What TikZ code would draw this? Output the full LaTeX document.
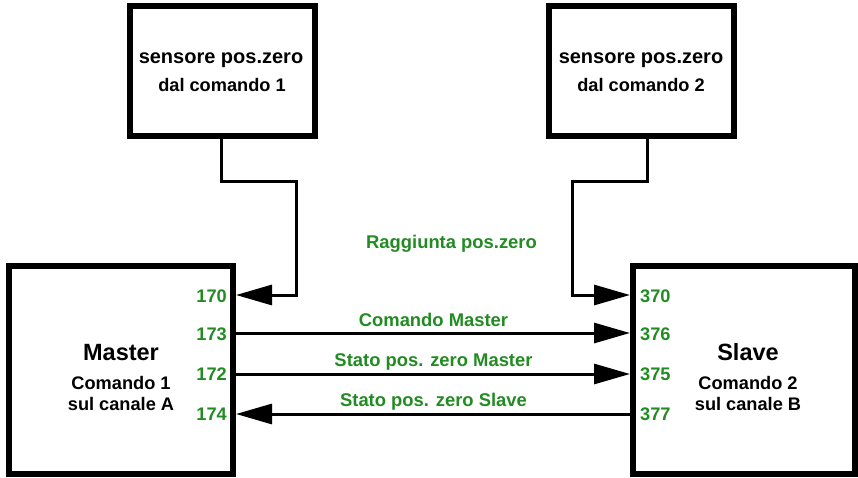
\documentclass[tikz,border=0pt]{standalone}
\usepackage{fontspec}
\setmainfont{Liberation Sans}
\usetikzlibrary{arrows.meta}
\definecolor{pingreen}{RGB}{34,139,34}
\tikzset{
  box/.style={draw=black, line width=6pt, rectangle, inner sep=0pt, fill=white},
  wire/.style={draw=black, line width=3pt},
  arr/.style={wire, -{Triangle[length=36pt,width=20pt]}},
  pin/.style={font=\fontsize{18.2}{20}\selectfont\bfseries, text=pingreen, inner sep=0pt},
  sig/.style={font=\fontsize{18.4}{20}\selectfont\bfseries, text=pingreen, inner sep=0pt, anchor=base},
  title/.style={font=\fontsize{23.5}{26}\selectfont\bfseries, inner sep=0pt, anchor=base},
  sub/.style={font=\fontsize{18.2}{20}\selectfont\bfseries, inner sep=0pt, anchor=base},
  top/.style={font=\fontsize{20}{22}\selectfont\bfseries, inner sep=0pt, anchor=base}
}
\begin{document}
\begin{tikzpicture}[x=1pt,y=-1pt]
\useasboundingbox (0,0) rectangle (858,477);
% boxes
\node[box, minimum width=224pt, minimum height=208pt] (M) at (121,370) {};
\node[box, minimum width=222pt, minimum height=208pt] (S) at (744,370) {};
\node[box, minimum width=185pt, minimum height=130pt] (T1) at (222.5,71) {};
\node[box, minimum width=185pt, minimum height=130pt] (T2) at (641,71) {};
% box texts
\node[top] (t1a) at (221,63) {sensore pos.zero};
\node[sub] (t1b) at (222,91) {dal comando 1};
\node[top] (t2a) at (641,63) {sensore pos.zero};
\node[sub] (t2b) at (641,91) {dal comando 2};
\node[title] (mt) at (121,360) {Master};
\node[sub] (m1) at (121,389) {Comando 1};
\node[sub] (m2) at (121,410) {sul canale A};
\node[title] (st) at (748,360) {Slave};
\node[sub] (s1) at (748,389) {Comando 2};
\node[sub] (s2) at (748,410) {sul canale B};
% pin labels
\node[pin, anchor=base east] (p170) at (227,302) {170};
\node[pin, anchor=base east] (p173) at (227,340) {173};
\node[pin, anchor=base east] (p172) at (227,380) {172};
\node[pin, anchor=base east] (p174) at (227,420) {174};
\node[pin, anchor=base west] (p370) at (640,302) {370};
\node[pin, anchor=base west] (p376) at (640,340) {376};
\node[pin, anchor=base west] (p375) at (640,380) {375};
\node[pin, anchor=base west] (p377) at (640,420) {377};
% signal labels
\node[sig] (lr) at (451.5,248) {Raggiunta pos.zero};
\node[sig] (lc) at (433.5,326) {Comando Master};
\node[sig] (lm) at (433.5,366.5) {Stato pos. zero Master};
\node[sig] (ls) at (433.5,406.5) {Stato pos. zero Slave};
% level coordinates
\coordinate (y0) at (0,295);
\coordinate (y1) at (0,333);
\coordinate (y2) at (0,374);
\coordinate (y3) at (0,414);
\coordinate (k1) at (296,181);
\coordinate (k2) at (572,181);
% connectors
\draw[arr] ([xshift=-1.5pt]T1.south) |- (k1) -- (k1 |- y0) -- (M.east |- y0);
\draw[arr] ([xshift=6pt]T2.south) |- (k2) -- (k2 |- y0) -- (S.west |- y0);
\draw[arr] (M.east |- y1) -- (S.west |- y1);
\draw[arr] (M.east |- y2) -- (S.west |- y2);
\draw[arr] (S.west |- y3) -- (M.east |- y3);
\end{tikzpicture}
\end{document}
